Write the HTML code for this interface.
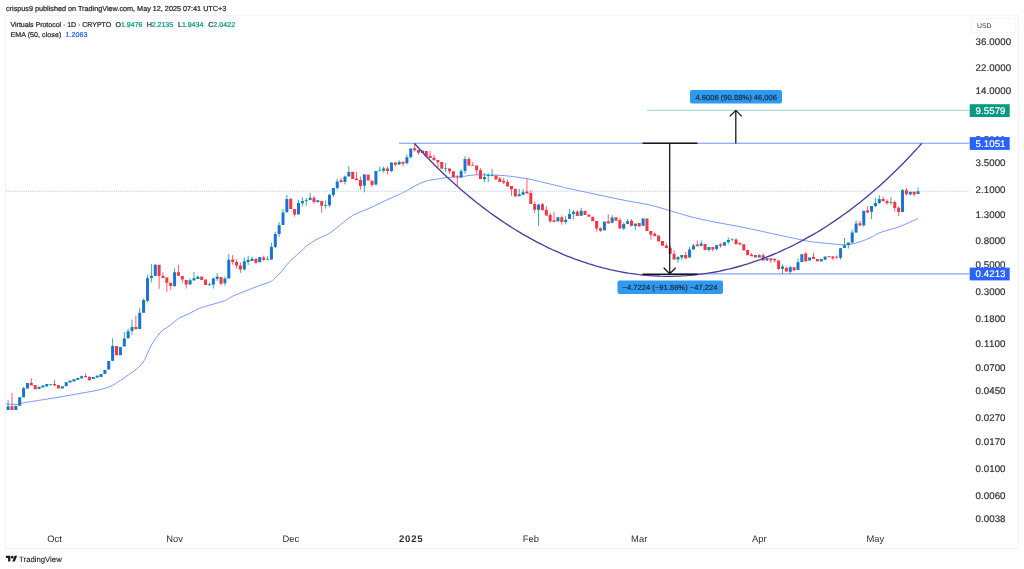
<!DOCTYPE html>
<html lang="en"><head><meta charset="utf-8"><title>Virtuals Protocol chart</title>
<style>
html,body{margin:0;padding:0;background:#fff;}
body{width:1024px;height:569px;overflow:hidden;position:relative;font-family:"Liberation Sans", Arial, sans-serif;}
svg{position:absolute;left:0;top:0;display:block;filter:blur(0.42px);}
svg text{font-family:"Liberation Sans", Arial, sans-serif;text-rendering:geometricPrecision;}
</style></head><body>
<svg width="1024" height="569" viewBox="0 0 1024 569">
<rect x="5.5" y="15.5" width="1012.7" height="533.2" fill="#fff" stroke="#f1f3f6" stroke-width="1"/>
<line x1="6" y1="191.25" x2="969.5" y2="191.25" stroke="#8fa9ff" stroke-width="0.65" stroke-dasharray="1.1 1.1"/>
<line x1="647" y1="110.3" x2="969.5" y2="110.3" stroke="#8fd2c5" stroke-width="0.9"/>
<line x1="399" y1="143.3" x2="969.5" y2="143.3" stroke="#7595f8" stroke-width="1.05"/>
<line x1="669" y1="273.9" x2="969.5" y2="273.9" stroke="#88a2fa" stroke-width="1.2"/>
<path d="M6.0 404.0C7.9 404.1 14.4 404.6 17.4 404.4C20.3 404.2 18.7 403.7 23.7 402.8C28.7 401.9 40.9 400.1 47.5 399.0C54.1 397.9 58.0 397.3 63.3 396.4C68.5 395.5 73.5 394.6 79.0 393.6C84.5 392.6 90.8 391.7 96.0 390.5C101.2 389.3 105.9 388.2 110.0 386.5C114.1 384.8 117.0 382.6 120.5 380.4C124.0 378.1 128.2 375.1 131.1 373.0C134.0 370.9 136.0 369.6 138.1 367.7C140.2 365.8 142.1 363.8 143.4 361.9C144.7 360.0 144.8 359.1 146.0 356.6C147.2 354.1 148.8 350.1 150.4 347.0C152.0 343.9 153.6 341.0 155.7 338.2C157.8 335.4 160.2 332.5 162.7 330.3C165.2 328.1 168.0 327.0 170.6 325.0C173.2 323.0 175.4 320.4 178.5 318.5C181.6 316.6 185.6 315.3 189.1 313.6C192.6 311.9 196.1 309.7 199.6 308.3C203.1 306.9 205.9 306.4 210.0 305.1C214.1 303.9 220.5 302.3 224.3 300.8C228.1 299.3 229.4 297.7 232.9 296.1C236.4 294.5 241.1 292.8 245.2 291.2C249.3 289.6 253.4 287.8 257.5 286.3C261.6 284.8 266.9 283.3 269.8 282.0C272.7 280.7 272.6 280.2 274.7 278.3C276.8 276.4 279.6 273.7 282.1 270.9C284.6 268.1 286.0 265.3 289.5 261.7C293.0 258.1 300.4 252.0 303.1 249.5C305.8 247.0 303.4 248.3 305.8 246.5C308.2 244.7 313.8 241.0 317.7 238.8C321.6 236.6 325.7 235.7 329.5 233.3C333.3 230.9 336.6 227.6 340.6 224.6C344.6 221.6 348.6 217.8 353.3 215.1C358.1 212.4 363.8 210.8 369.1 208.4C374.4 206.0 379.6 203.2 384.9 200.8C390.2 198.4 397.5 195.1 400.7 193.7C403.9 192.3 402.1 193.3 404.0 192.3C405.9 191.3 409.3 189.1 412.0 187.6C414.7 186.1 417.3 184.6 420.0 183.4C422.7 182.2 425.6 181.2 428.3 180.5C431.0 179.8 432.9 179.8 436.0 179.3C439.1 178.8 443.0 178.0 447.0 177.6C451.0 177.2 455.3 177.2 460.0 176.8C464.7 176.4 469.3 175.2 475.0 174.9C480.7 174.6 488.5 174.9 494.0 175.1C499.5 175.3 502.5 175.4 508.0 176.0C513.5 176.6 520.8 177.6 527.0 178.7C533.2 179.8 539.5 181.5 545.0 182.8C550.5 184.1 555.8 185.4 560.0 186.4C564.2 187.4 564.4 187.6 570.0 188.8C575.6 190.0 585.6 192.1 593.4 193.8C601.2 195.5 609.1 197.2 616.9 198.8C624.7 200.4 634.4 202.1 640.3 203.2C646.1 204.3 647.1 204.3 652.0 205.5C656.9 206.7 663.3 208.7 669.6 210.5C675.9 212.3 682.7 214.7 690.0 216.6C697.3 218.5 705.6 220.2 713.4 221.8C721.2 223.4 729.1 224.6 736.9 226.1C744.7 227.6 752.5 229.3 760.3 231.0C768.1 232.7 777.2 234.7 783.8 236.1C790.4 237.5 795.6 238.7 800.0 239.6C804.4 240.5 806.7 241.0 810.0 241.5C813.3 242.0 815.0 242.2 820.0 242.7C825.0 243.2 835.0 244.3 840.0 244.6C845.0 244.9 846.7 244.8 850.0 244.3C853.3 243.8 856.7 242.9 860.0 241.8C863.3 240.7 866.7 239.4 870.0 237.9C873.3 236.4 875.3 234.4 880.0 232.6C884.7 230.8 892.0 229.3 898.4 227.0C904.8 224.7 914.8 219.9 918.1 218.5" fill="none" stroke="#7b99ff" stroke-width="1"/>
<rect x="917.02" y="187.0" width="2" height="4.3" fill="#089981" opacity="0.3"/>
<path d="M8.10 400.1V409.9M23.59 387.0V397.3M46.82 384.3V387.3M50.69 384.0V385.7M81.67 375.4V378.0M112.64 338.3V360.8M124.26 332.0V346.4M128.13 328.6V338.3M132.00 319.7V334.7M139.75 308.2V329.1M143.62 298.6V312.7M147.49 274.7V302.1M151.36 264.1V282.4M155.24 263.7V275.8M174.60 268.4V287.0M190.08 278.2V284.5M193.96 272.2V280.2M197.83 275.4V278.6M209.44 282.7V286.0M213.32 277.6V288.6M217.19 273.1V281.0M224.93 276.5V285.7M228.80 254.0V278.5M244.29 257.4V270.3M248.16 255.7V265.0M252.04 256.5V260.7M267.52 256.2V259.7M271.40 242.5V259.6M275.27 231.7V248.3M279.14 222.1V236.8M283.01 208.9V224.9M286.88 194.8V212.2M298.50 199.9V214.4M302.37 197.2V206.4M306.24 198.2V205.8M310.12 192.7V199.9M325.60 200.3V208.5M329.48 193.8V207.3M333.35 188.0V197.0M337.22 178.6V189.6M344.96 175.5V184.4M348.84 166.0V176.5M364.32 174.4V192.3M375.94 170.9V185.7M379.81 167.0V171.6M383.68 166.5V172.6M391.43 162.5V172.3M399.17 160.2V164.6M406.92 154.4V164.4M410.79 148.6V158.3M445.64 162.8V172.3M461.12 169.1V177.6M465.00 156.1V173.7M484.36 172.8V182.3M488.23 173.3V182.1M492.10 168.8V176.4M519.20 188.9V195.9M523.08 188.9V194.7M538.56 204.5V225.8M565.67 216.1V224.3M569.54 209.0V219.0M573.41 210.1V219.6M581.16 207.7V215.7M612.13 215.1V222.8M623.75 222.4V230.2M627.62 219.1V224.0M635.36 224.0V229.8M677.96 256.3V262.7M681.83 255.1V260.0M689.57 247.1V257.5M693.44 244.0V249.5M701.19 240.5V246.4M708.93 247.0V251.4M716.68 245.2V250.4M728.29 237.3V244.1M732.16 238.8V241.5M759.27 254.2V257.0M782.50 264.7V273.7M790.24 265.8V273.7M797.99 258.4V270.0M840.58 248.2V259.7M844.45 237.9V248.0M848.32 242.5V248.6M852.20 229.5V244.1M856.07 220.3V232.6M863.81 210.7V226.8M871.56 206.1V219.1M875.43 198.1V207.2M879.30 195.2V204.1M890.92 196.9V204.7M902.53 188.8V211.9M910.28 191.7V195.7" stroke="#089981" stroke-width="0.8" fill="none"/>
<path d="M11.97 393.0V409.9M31.33 378.3V385.1M54.56 380.3V386.2M85.54 373.5V377.5M89.41 376.7V381.0M135.88 315.8V329.2M159.11 264.8V288.8M162.98 272.2V278.2M166.85 277.5V291.8M170.72 282.8V289.9M178.47 264.8V275.8M182.34 276.1V282.8M186.21 279.9V288.5M221.06 277.1V285.3M232.68 255.1V264.7M236.55 259.4V268.6M240.42 262.4V272.9M255.91 258.7V263.9M263.65 255.7V261.0M290.76 197.8V208.9M294.63 208.9V216.7M313.99 195.7V203.6M321.73 200.9V212.6M341.09 178.1V181.8M356.58 171.8V179.8M360.45 176.5V189.7M372.07 180.7V186.7M387.56 166.3V174.4M395.30 162.5V166.5M403.04 162.1V166.5M414.66 143.3V151.7M418.53 149.9V154.7M430.15 150.9V157.8M434.02 154.9V160.2M437.89 160.2V167.0M449.51 168.6V173.9M457.25 174.9V186.8M468.87 157.0V165.6M472.74 162.1V165.7M476.61 165.6V174.7M480.48 168.1V179.1M499.84 177.0V181.9M503.72 177.8V184.0M507.59 179.7V186.4M511.46 186.1V195.7M526.95 178.5V193.2M530.82 190.1V204.0M534.69 201.6V213.1M542.44 203.0V210.2M546.31 206.1V215.4M550.18 212.9V223.0M554.05 211.9V222.7M561.80 215.4V224.7M577.28 210.1V215.9M596.64 221.0V231.7M600.52 227.4V231.9M608.26 214.2V223.1M619.88 218.1V228.6M631.49 219.1V226.5M650.85 231.1V239.7M654.72 232.3V236.6M666.34 243.4V247.9M670.21 245.2V253.8M674.08 250.1V259.4M685.70 252.0V258.5M697.32 240.5V245.8M712.80 246.9V251.6M720.55 243.2V247.7M736.04 238.4V244.2M739.91 243.2V245.4M751.52 253.1V255.8M763.14 253.4V260.5M770.88 258.7V262.9M774.76 259.1V262.1M778.63 260.5V270.0M786.37 266.3V271.6M805.73 252.1V262.2M813.48 252.9V258.8M828.96 256.3V257.8M832.84 256.0V260.1M836.71 255.4V258.8M859.94 220.9V225.4M867.68 206.1V213.4M883.17 196.7V201.1M887.04 199.4V204.5M894.79 200.6V211.6M898.66 206.5V215.9M906.40 188.0V195.7M914.15 191.7V196.2" stroke="#f23645" stroke-width="0.8" fill="none"/>
<path d="M6.60 406.3h3V409.9h-3zM14.34 405.7h3V409.9h-3zM18.22 397.3h3V405.7h-3zM22.09 388.2h3V397.3h-3zM25.96 383.0h3V388.6h-3zM37.58 386.8h3V389.1h-3zM41.45 385.4h3V387.6h-3zM45.32 384.0h3V386.2h-3zM49.19 383.9h3V384.8h-3zM60.81 386.3h3V388.6h-3zM64.68 382.2h3V386.2h-3zM68.55 380.6h3V382.6h-3zM72.42 379.2h3V381.4h-3zM76.30 377.9h3V379.9h-3zM80.17 376.3h3V378.4h-3zM91.78 376.9h3V379.1h-3zM95.66 375.5h3V377.6h-3zM99.53 374.1h3V377.0h-3zM103.40 369.9h3V373.9h-3zM107.27 361.1h3V369.6h-3zM111.14 346.0h3V360.8h-3zM118.89 347.0h3V355.2h-3zM122.76 338.6h3V346.4h-3zM126.63 331.3h3V338.3h-3zM130.50 327.1h3V331.0h-3zM138.25 312.7h3V329.1h-3zM142.12 300.0h3V312.7h-3zM145.99 278.2h3V300.7h-3zM149.86 275.7h3V277.9h-3zM153.74 264.8h3V275.8h-3zM173.10 272.3h3V285.9h-3zM188.58 280.3h3V284.5h-3zM192.46 278.2h3V280.5h-3zM196.33 276.7h3V278.9h-3zM207.94 284.2h3V285.1h-3zM211.82 278.4h3V284.6h-3zM215.69 276.8h3V279.0h-3zM223.43 278.5h3V283.2h-3zM227.30 259.8h3V278.5h-3zM242.79 261.3h3V269.5h-3zM246.66 259.8h3V262.0h-3zM250.54 258.8h3V261.0h-3zM258.28 256.9h3V262.2h-3zM266.02 258.9h3V259.8h-3zM269.90 246.7h3V259.6h-3zM273.77 234.1h3V247.0h-3zM277.64 225.3h3V234.1h-3zM281.51 212.6h3V224.9h-3zM285.38 199.1h3V212.2h-3zM297.00 203.1h3V214.4h-3zM300.87 201.0h3V203.3h-3zM304.74 199.9h3V200.8h-3zM308.62 197.7h3V200.0h-3zM316.36 200.2h3V202.3h-3zM324.10 205.2h3V206.1h-3zM327.98 194.8h3V205.2h-3zM331.85 188.0h3V194.9h-3zM335.72 181.5h3V188.0h-3zM343.46 176.5h3V181.8h-3zM347.34 172.0h3V176.5h-3zM362.82 174.4h3V185.7h-3zM374.44 170.9h3V184.4h-3zM378.31 169.8h3V170.6h-3zM382.18 168.4h3V170.7h-3zM389.93 162.5h3V170.9h-3zM397.67 162.1h3V164.6h-3zM405.42 157.2h3V163.3h-3zM409.29 148.6h3V157.2h-3zM420.90 150.6h3V152.9h-3zM444.14 167.9h3V168.8h-3zM459.62 171.2h3V177.6h-3zM463.50 159.1h3V170.9h-3zM482.86 177.0h3V179.3h-3zM486.73 175.1h3V175.9h-3zM490.60 174.9h3V175.8h-3zM517.70 194.3h3V196.3h-3zM521.58 192.2h3V194.7h-3zM537.06 204.5h3V209.8h-3zM556.42 217.2h3V221.5h-3zM564.17 219.7h3V222.0h-3zM568.04 214.0h3V219.0h-3zM571.91 211.8h3V214.1h-3zM579.66 210.8h3V215.7h-3zM602.89 221.6h3V230.4h-3zM610.63 217.5h3V222.8h-3zM622.25 224.0h3V228.6h-3zM626.12 221.2h3V224.0h-3zM633.86 223.6h3V225.9h-3zM641.61 218.4h3V225.8h-3zM676.46 257.1h3V259.4h-3zM680.33 255.1h3V257.5h-3zM688.07 249.5h3V257.5h-3zM691.94 245.5h3V249.5h-3zM699.69 243.4h3V245.8h-3zM707.43 247.0h3V249.9h-3zM715.18 245.2h3V248.9h-3zM722.92 242.2h3V245.7h-3zM726.79 239.9h3V242.2h-3zM730.66 238.7h3V239.6h-3zM757.77 255.2h3V257.4h-3zM765.51 258.3h3V260.6h-3zM781.00 266.5h3V268.8h-3zM788.74 267.2h3V271.8h-3zM796.49 262.3h3V270.0h-3zM800.36 254.2h3V262.1h-3zM808.10 257.4h3V260.6h-3zM819.72 259.1h3V261.4h-3zM823.59 256.6h3V259.7h-3zM839.08 248.2h3V257.8h-3zM842.95 245.3h3V248.0h-3zM846.82 242.5h3V245.3h-3zM850.70 232.6h3V242.5h-3zM854.57 223.6h3V232.6h-3zM862.31 210.7h3V225.2h-3zM870.06 206.1h3V211.8h-3zM873.93 203.1h3V206.0h-3zM877.80 199.1h3V203.1h-3zM889.42 201.9h3V202.8h-3zM901.03 190.3h3V211.9h-3zM908.78 191.7h3V194.4h-3zM916.52 191.3h3V193.9h-3z" fill="#089981"/>
<path d="M7.10 406.7h2V409.5h-2zM14.84 406.1h2V409.5h-2zM18.72 397.7h2V405.3h-2zM22.59 388.6h2V396.9h-2zM26.46 383.4h2V388.2h-2zM38.08 387.2h2V388.7h-2zM41.95 385.8h2V387.2h-2zM45.82 384.4h2V385.9h-2zM61.31 386.7h2V388.2h-2zM65.18 382.6h2V385.8h-2zM69.05 381.0h2V382.2h-2zM72.92 379.6h2V381.1h-2zM76.80 378.3h2V379.5h-2zM80.67 376.7h2V378.0h-2zM92.28 377.2h2V378.8h-2zM96.16 375.9h2V377.2h-2zM100.03 374.5h2V376.6h-2zM103.90 370.3h2V373.5h-2zM107.77 361.5h2V369.2h-2zM111.64 346.4h2V360.4h-2zM119.39 347.4h2V354.8h-2zM123.26 339.0h2V346.0h-2zM127.13 331.7h2V337.9h-2zM131.00 327.5h2V330.6h-2zM138.75 313.1h2V328.7h-2zM142.62 300.4h2V312.3h-2zM146.49 278.6h2V300.3h-2zM150.36 276.1h2V277.6h-2zM154.24 265.2h2V275.4h-2zM173.60 272.7h2V285.5h-2zM189.08 280.7h2V284.1h-2zM192.96 278.6h2V280.1h-2zM196.83 277.1h2V278.6h-2zM212.32 278.8h2V284.2h-2zM216.19 277.1h2V278.6h-2zM223.93 278.9h2V282.8h-2zM227.80 260.2h2V278.1h-2zM243.29 261.7h2V269.1h-2zM247.16 260.2h2V261.6h-2zM251.04 259.1h2V260.6h-2zM258.78 257.3h2V261.8h-2zM270.40 247.1h2V259.2h-2zM274.27 234.5h2V246.6h-2zM278.14 225.7h2V233.7h-2zM282.01 213.0h2V224.5h-2zM285.88 199.5h2V211.8h-2zM297.50 203.5h2V214.0h-2zM301.37 201.4h2V202.9h-2zM309.12 198.1h2V199.6h-2zM316.86 200.6h2V201.9h-2zM328.48 195.2h2V204.8h-2zM332.35 188.4h2V194.5h-2zM336.22 181.9h2V187.6h-2zM343.96 176.9h2V181.4h-2zM347.84 172.4h2V176.1h-2zM363.32 174.8h2V185.3h-2zM374.94 171.3h2V184.0h-2zM382.68 168.8h2V170.3h-2zM390.43 162.9h2V170.5h-2zM398.17 162.5h2V164.2h-2zM405.92 157.6h2V162.9h-2zM409.79 149.0h2V156.8h-2zM421.40 151.0h2V152.5h-2zM460.12 171.6h2V177.2h-2zM464.00 159.5h2V170.5h-2zM483.36 177.4h2V178.9h-2zM518.20 194.7h2V195.9h-2zM522.08 192.6h2V194.3h-2zM537.56 204.9h2V209.4h-2zM556.92 217.6h2V221.1h-2zM564.67 220.1h2V221.6h-2zM568.54 214.4h2V218.6h-2zM572.41 212.2h2V213.7h-2zM580.16 211.2h2V215.3h-2zM603.39 222.0h2V230.0h-2zM611.13 217.9h2V222.4h-2zM622.75 224.4h2V228.2h-2zM626.62 221.6h2V223.6h-2zM634.36 224.0h2V225.5h-2zM642.11 218.8h2V225.4h-2zM676.96 257.5h2V259.0h-2zM680.83 255.5h2V257.1h-2zM688.57 249.9h2V257.1h-2zM692.44 245.9h2V249.1h-2zM700.19 243.8h2V245.3h-2zM707.93 247.4h2V249.5h-2zM715.68 245.6h2V248.5h-2zM723.42 242.6h2V245.3h-2zM727.29 240.3h2V241.8h-2zM758.27 255.6h2V257.0h-2zM766.01 258.7h2V260.2h-2zM781.50 266.9h2V268.4h-2zM789.24 267.6h2V271.4h-2zM796.99 262.7h2V269.6h-2zM800.86 254.6h2V261.7h-2zM808.60 257.8h2V260.2h-2zM820.22 259.5h2V261.0h-2zM824.09 257.0h2V259.3h-2zM839.58 248.6h2V257.4h-2zM843.45 245.7h2V247.6h-2zM847.32 242.9h2V244.9h-2zM851.20 233.0h2V242.1h-2zM855.07 224.0h2V232.2h-2zM862.81 211.1h2V224.8h-2zM870.56 206.5h2V211.4h-2zM874.43 203.5h2V205.6h-2zM878.30 199.5h2V202.7h-2zM901.53 190.7h2V211.5h-2zM909.28 192.1h2V194.0h-2zM917.02 191.7h2V193.5h-2z" fill="#2962ff"/>
<path d="M10.47 406.3h3V409.9h-3zM29.83 383.1h3V385.4h-3zM33.70 385.1h3V389.3h-3zM53.06 383.9h3V385.5h-3zM56.94 384.9h3V388.6h-3zM84.04 376.1h3V376.9h-3zM87.91 376.7h3V379.9h-3zM115.02 346.0h3V355.2h-3zM134.38 327.1h3V329.3h-3zM157.61 264.8h3V276.1h-3zM161.48 275.7h3V277.9h-3zM165.35 277.5h3V282.7h-3zM169.22 282.8h3V285.9h-3zM176.97 272.3h3V275.8h-3zM180.84 276.1h3V279.6h-3zM184.71 279.9h3V284.5h-3zM200.20 276.6h3V280.0h-3zM204.07 279.6h3V284.9h-3zM219.56 277.1h3V283.8h-3zM231.18 259.6h3V262.1h-3zM235.05 261.9h3V265.5h-3zM238.92 265.5h3V269.5h-3zM254.41 258.7h3V262.7h-3zM262.15 257.4h3V259.8h-3zM289.26 199.1h3V208.9h-3zM293.13 208.9h3V214.4h-3zM312.49 197.8h3V202.1h-3zM320.23 200.9h3V205.8h-3zM339.59 180.3h3V182.2h-3zM351.21 171.8h3V179.1h-3zM355.08 178.6h3V180.2h-3zM358.95 180.0h3V186.0h-3zM366.70 174.4h3V180.4h-3zM370.57 180.7h3V185.0h-3zM386.06 168.4h3V170.9h-3zM393.80 162.4h3V164.7h-3zM401.54 161.7h3V163.7h-3zM413.16 148.2h3V150.2h-3zM417.03 149.9h3V152.8h-3zM424.78 150.9h3V156.5h-3zM428.65 155.8h3V158.1h-3zM432.52 157.8h3V160.2h-3zM436.39 160.0h3V162.3h-3zM440.26 162.1h3V168.8h-3zM448.01 168.6h3V171.2h-3zM451.88 171.2h3V177.0h-3zM455.75 176.4h3V177.3h-3zM467.37 158.9h3V165.6h-3zM471.24 164.9h3V165.8h-3zM475.11 165.6h3V170.2h-3zM478.98 170.2h3V179.1h-3zM494.47 175.4h3V179.4h-3zM498.34 178.5h3V181.9h-3zM502.22 180.8h3V182.5h-3zM506.09 181.9h3V186.4h-3zM509.96 186.1h3V189.3h-3zM513.83 188.7h3V196.5h-3zM525.45 191.6h3V193.6h-3zM529.32 193.0h3V204.0h-3zM533.19 204.0h3V209.8h-3zM540.94 204.3h3V210.2h-3zM544.81 209.8h3V215.4h-3zM548.68 215.1h3V221.3h-3zM552.55 220.2h3V221.7h-3zM560.30 217.2h3V222.1h-3zM575.78 211.7h3V215.9h-3zM583.53 210.8h3V215.1h-3zM587.40 214.4h3V216.8h-3zM591.27 216.7h3V221.2h-3zM595.14 221.0h3V228.6h-3zM599.02 228.2h3V230.7h-3zM606.76 221.2h3V223.5h-3zM614.50 217.2h3V220.7h-3zM618.38 220.0h3V228.6h-3zM629.99 220.8h3V225.8h-3zM637.74 223.1h3V226.4h-3zM645.48 218.4h3V231.1h-3zM649.35 231.1h3V234.8h-3zM653.22 233.7h3V236.0h-3zM657.10 235.6h3V241.5h-3zM660.97 240.9h3V245.8h-3zM664.84 245.5h3V247.9h-3zM668.71 247.7h3V253.8h-3zM672.58 253.8h3V259.4h-3zM684.20 255.1h3V258.5h-3zM695.82 244.6h3V246.2h-3zM703.56 244.0h3V249.9h-3zM711.30 246.9h3V249.4h-3zM719.05 244.2h3V245.7h-3zM734.54 239.4h3V244.2h-3zM738.41 242.8h3V244.3h-3zM742.28 244.2h3V250.5h-3zM746.15 250.0h3V255.2h-3zM750.02 254.7h3V256.2h-3zM753.90 255.1h3V257.4h-3zM761.64 255.2h3V260.5h-3zM769.38 258.3h3V260.2h-3zM773.26 258.7h3V260.4h-3zM777.13 260.5h3V269.0h-3zM784.87 267.9h3V271.6h-3zM792.62 267.2h3V270.5h-3zM804.23 253.6h3V261.0h-3zM811.98 256.9h3V259.1h-3zM815.85 259.0h3V261.3h-3zM827.46 256.2h3V257.1h-3zM831.34 256.5h3V258.2h-3zM835.21 256.8h3V257.6h-3zM858.44 223.2h3V225.6h-3zM866.18 210.3h3V212.5h-3zM881.67 198.9h3V201.2h-3zM885.54 200.9h3V203.2h-3zM893.29 202.1h3V208.0h-3zM897.16 207.7h3V211.9h-3zM904.90 190.3h3V194.2h-3zM912.65 191.7h3V194.4h-3z" fill="#f23645"/>
<path d="M414.3 143.3L417.9 147.3L421.6 151.3L425.2 155.2L428.8 159.0L432.4 162.7L436.1 166.4L439.7 169.9L443.3 173.4L446.9 176.9L450.6 180.2L454.2 183.5L457.8 186.8L461.4 189.9L465.1 193.0L468.7 196.1L472.3 199.0L475.9 202.0L479.6 204.8L483.2 207.6L486.8 210.3L490.4 213.0L494.1 215.6L497.7 218.1L501.3 220.6L504.9 223.0L508.6 225.4L512.2 227.7L515.8 230.0L519.4 232.2L523.0 234.3L526.7 236.4L530.3 238.4L533.9 240.4L537.5 242.3L541.2 244.2L544.8 246.0L548.4 247.8L552.0 249.5L555.7 251.1L559.3 252.7L562.9 254.3L566.5 255.8L570.2 257.2L573.8 258.6L577.4 259.9L581.0 261.2L584.7 262.4L588.3 263.6L591.9 264.7L595.5 265.8L599.2 266.8L602.8 267.8L606.4 268.7L610.0 269.6L613.7 270.4L617.3 271.1L620.9 271.8L624.5 272.5L628.2 273.1L631.8 273.6L635.4 274.1L639.0 274.6L642.7 275.0L646.3 275.3L649.9 275.6L653.5 275.9L657.2 276.0L660.8 276.2L664.4 276.3L668.0 276.3L671.7 276.3L675.3 276.2L678.9 276.1L682.5 275.9L686.2 275.7L689.8 275.4L693.4 275.1L697.0 274.7L700.7 274.2L704.3 273.7L707.9 273.2L711.5 272.6L715.2 272.0L718.8 271.3L722.4 270.5L726.0 269.7L729.7 268.9L733.3 268.0L736.9 267.0L740.5 266.0L744.2 264.9L747.8 263.8L751.4 262.6L755.0 261.4L758.7 260.2L762.3 258.8L765.9 257.4L769.5 256.0L773.2 254.5L776.8 253.0L780.4 251.4L784.0 249.7L787.7 248.0L791.3 246.3L794.9 244.5L798.5 242.6L802.2 240.7L805.8 238.7L809.4 236.7L813.0 234.6L816.7 232.5L820.3 230.3L823.9 228.0L827.5 225.7L831.2 223.3L834.8 220.9L838.4 218.4L842.0 215.8L845.7 213.2L849.3 210.6L852.9 207.8L856.5 205.0L860.2 202.2L863.8 199.3L867.4 196.3L871.0 193.2L874.7 190.1L878.3 187.0L881.9 183.7L885.5 180.4L889.2 177.0L892.8 173.6L896.4 170.1L900.0 166.5L903.7 162.8L907.3 159.0L910.9 155.2L914.5 151.3L918.2 147.4L921.8 143.3" fill="none" stroke="#4a3d9e" stroke-width="1.35" stroke-linejoin="round"/>
<path d="M642.5 143.2H697.5 M642.5 274.2H697.5" stroke="#1a1a1a" stroke-width="1.45" fill="none"/>
<path d="M669.7 143.2V273.6 M663.7 267.8L669.7 273.8L675.7 267.8" stroke="#1a1a1a" stroke-width="1.3" fill="none"/>
<path d="M735.8 143.4V110.6 M729.8 116.4L735.8 110.4L741.8 116.4" stroke="#1a1a1a" stroke-width="1.3" fill="none"/>
<rect x="690" y="90" width="92" height="13.6" rx="2" fill="#2f9bf0"/>
<text x="695.5" y="99.7" font-size="7.6" fill="#1c2030" stroke="#1c2030" stroke-width="0.15" textLength="81.5">4.6006 (90.88%) 46,006</text>
<rect x="617.5" y="280.6" width="105.5" height="13.4" rx="2" fill="#2f9bf0"/>
<text x="622.5" y="290.1" font-size="7.6" fill="#1c2030" stroke="#1c2030" stroke-width="0.15" textLength="95">−4.7224 (−91.86%) −47,224</text>
<text x="975.5" y="45" font-size="9.7" fill="#2a2e39" stroke="#2a2e39" stroke-width="0.18" textLength="35.7">36.0000</text>
<text x="975.5" y="71" font-size="9.7" fill="#2a2e39" stroke="#2a2e39" stroke-width="0.18" textLength="35.7">22.0000</text>
<text x="975.5" y="94" font-size="9.7" fill="#2a2e39" stroke="#2a2e39" stroke-width="0.18" textLength="35.7">14.0000</text>
<text x="975.5" y="166" font-size="9.7" fill="#2a2e39" stroke="#2a2e39" stroke-width="0.18" textLength="30.0">3.5000</text>
<text x="975.5" y="193" font-size="9.7" fill="#2a2e39" stroke="#2a2e39" stroke-width="0.18" textLength="30.0">2.1000</text>
<text x="975.5" y="218" font-size="9.7" fill="#2a2e39" stroke="#2a2e39" stroke-width="0.18" textLength="30.0">1.3000</text>
<text x="975.5" y="244" font-size="9.7" fill="#2a2e39" stroke="#2a2e39" stroke-width="0.18" textLength="30.0">0.8000</text>
<text x="975.5" y="268" font-size="9.7" fill="#2a2e39" stroke="#2a2e39" stroke-width="0.18" textLength="30.0">0.5000</text>
<text x="975.5" y="295" font-size="9.7" fill="#2a2e39" stroke="#2a2e39" stroke-width="0.18" textLength="30.0">0.3000</text>
<text x="975.5" y="322" font-size="9.7" fill="#2a2e39" stroke="#2a2e39" stroke-width="0.18" textLength="30.0">0.1800</text>
<text x="975.5" y="347" font-size="9.7" fill="#2a2e39" stroke="#2a2e39" stroke-width="0.18" textLength="30.0">0.1100</text>
<text x="975.5" y="371" font-size="9.7" fill="#2a2e39" stroke="#2a2e39" stroke-width="0.18" textLength="30.0">0.0700</text>
<text x="975.5" y="394" font-size="9.7" fill="#2a2e39" stroke="#2a2e39" stroke-width="0.18" textLength="30.0">0.0450</text>
<text x="975.5" y="421" font-size="9.7" fill="#2a2e39" stroke="#2a2e39" stroke-width="0.18" textLength="30.0">0.0270</text>
<text x="975.5" y="445" font-size="9.7" fill="#2a2e39" stroke="#2a2e39" stroke-width="0.18" textLength="30.0">0.0170</text>
<text x="975.5" y="472" font-size="9.7" fill="#2a2e39" stroke="#2a2e39" stroke-width="0.18" textLength="30.0">0.0100</text>
<text x="975.5" y="499" font-size="9.7" fill="#2a2e39" stroke="#2a2e39" stroke-width="0.18" textLength="30.0">0.0060</text>
<text x="975.5" y="522" font-size="9.7" fill="#2a2e39" stroke="#2a2e39" stroke-width="0.18" textLength="30.0">0.0038</text>
<text x="975.5" y="143" font-size="9.7" fill="#2a2e39" textLength="30">5.5000</text>
<rect x="969.7" y="104.2" width="40" height="12.8" fill="#089981"/>
<text x="975.5" y="114" font-size="9.7" fill="#fff" stroke="#fff" stroke-width="0.18" textLength="30">9.5579</text>
<rect x="969.7" y="137.1" width="40" height="12.8" fill="#2962ff"/>
<text x="975.5" y="147" font-size="9.7" fill="#fff" stroke="#fff" stroke-width="0.18" textLength="30">5.1051</text>
<rect x="969.7" y="267.6" width="40" height="12.8" fill="#2962ff"/>
<text x="975.5" y="277" font-size="9.7" fill="#fff" stroke="#fff" stroke-width="0.18" textLength="30">0.4213</text>
<rect x="971.3" y="18.3" width="44.4" height="14.2" rx="1.5" fill="#fff" stroke="#f0f1f4" stroke-width="0.8"/>
<text x="977" y="28" font-size="6.9" fill="#2a2e39">USD</text>
<text x="54.6" y="541.9" font-size="9.4" text-anchor="middle" fill="#2a2e39">Oct</text>
<text x="174.6" y="541.9" font-size="9.4" text-anchor="middle" fill="#2a2e39">Nov</text>
<text x="290.8" y="541.9" font-size="9.4" text-anchor="middle" fill="#2a2e39">Dec</text>
<text x="410.8" y="541.9" font-size="9.6" text-anchor="middle" fill="#2a2e39" font-weight="bold" textLength="23.8">2025</text>
<text x="530.8" y="541.9" font-size="9.4" text-anchor="middle" fill="#2a2e39">Feb</text>
<text x="639.2" y="541.9" font-size="9.4" text-anchor="middle" fill="#2a2e39">Mar</text>
<text x="759.3" y="541.9" font-size="9.4" text-anchor="middle" fill="#2a2e39">Apr</text>
<text x="875.4" y="541.9" font-size="9.4" text-anchor="middle" fill="#2a2e39">May</text>
<text x="10.5" y="27" font-size="7.05" fill="#1e222d" stroke="#1e222d" stroke-width="0.22" textLength="100.7">Virtuals Protocol · 1D · CRYPTO</text>
<text x="115.50" y="27" font-size="7.05" fill="#1e222d" stroke="#1e222d" stroke-width="0.22" textLength="27.0">O<tspan fill="#089981" stroke="#089981">1.9476</tspan></text>
<text x="146.75" y="27" font-size="7.05" fill="#1e222d" stroke="#1e222d" stroke-width="0.22" textLength="26.3">H<tspan fill="#089981" stroke="#089981">2.2135</tspan></text>
<text x="178.00" y="27" font-size="7.05" fill="#1e222d" stroke="#1e222d" stroke-width="0.22" textLength="25.3">L<tspan fill="#089981" stroke="#089981">1.9434</tspan></text>
<text x="208.25" y="27" font-size="7.05" fill="#1e222d" stroke="#1e222d" stroke-width="0.22" textLength="26.8">C<tspan fill="#089981" stroke="#089981">2.0422</tspan></text>
<text x="10.5" y="37" font-size="7.05" fill="#1e222d" stroke="#1e222d" stroke-width="0.22" textLength="50.8">EMA (50, close)</text>
<text x="65.5" y="37" font-size="7.05" fill="#2962ff" stroke="#2962ff" stroke-width="0.22" textLength="22">1.2063</text>
<text x="6" y="11" font-size="7.25" fill="#1e222d" stroke="#1e222d" stroke-width="0.22" textLength="220.3">crispus9 published on TradingView.com, May 12, 2025 07:41 UTC+3</text>
<g transform="translate(5.9 554.6) scale(0.318)" fill="#131722"><path d="M14 22H7V11H0V4h14v18zM28 22h-8l7.5-18h8L28 22z"/><circle cx="20" cy="8" r="4"/></g>
<text x="19.1" y="561.8" font-size="7.7" fill="#1e222d" stroke="#1e222d" stroke-width="0.15" textLength="42.6">TradingView</text>
</svg>
</body></html>
